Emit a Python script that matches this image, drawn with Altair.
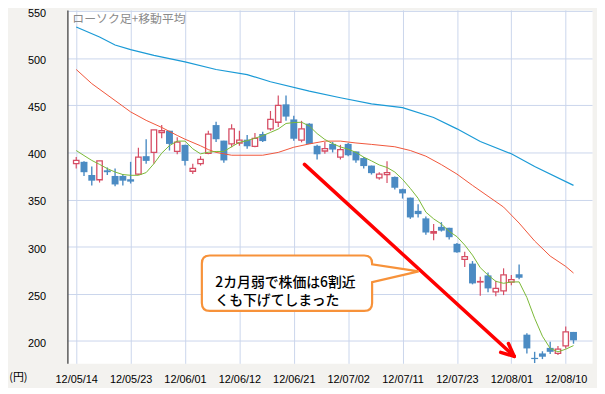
import altair as alt
import pandas as pd

# ---------------- data ----------------
opens = [388, 390, 376, 371, 381, 375, 375, 371.5, 377, 396,
         400, 421, 423, 401, 408, 380, 388, 399, 429, 412.5,
         409, 410, 413.5, 406.5, 419.5, 425, 432, 451, 435, 413,
         430.5, 407, 401.5, 409, 395, 409, 401, 394, 386, 373,
         376.5, 374, 361, 352, 338, 330, 314.5, 321, 320, 303,
         286.5, 282, 262.5, 269.5, 252, 253, 262.3, 270.7, 206.6, 182,
         186.7, 192.6, 186.7, 194.7, 209.5]
highs = [395, 390.5, 385, 391, 384, 383, 377, 390, 405, 414,
         424, 429, 423, 416, 408, 388, 396, 423, 432.5, 412.5,
         430, 423, 418.5, 420.5, 422, 444, 460.5, 460.5, 439, 433.5,
         431, 408, 411, 411, 408, 410, 401, 395, 386, 379,
         390.5, 374.5, 361.5, 352, 345, 332, 324, 326, 320, 304,
         294.5, 284.7, 268, 272.5, 263.7, 277, 270, 281, 208, 188.4,
         189, 199, 194.7, 215.3, 209.5]
lows = [383, 375, 365, 368, 376, 364, 365, 367, 376, 388,
        388, 415, 402, 398, 386, 377, 386, 398, 411, 389,
        405.5, 407, 404, 405.5, 411, 423, 427, 433.5, 412.5, 410.7,
        409, 392.5, 398.5, 400, 392.5, 396, 389, 383, 376.5, 371,
        367.5, 360.7, 351, 329.5, 331, 312.7, 306.7, 316, 307.5, 293.5,
        278.4, 260, 248, 251.5, 247.3, 248.6, 259, 265.5, 186.7, 176.5,
        180.7, 186, 185, 192, 197]
closes = [391.5, 379, 370, 391, 379, 366, 370, 369, 395, 391,
          424, 423, 409, 411, 391, 383, 392.5, 419.5, 414, 391.5,
          425, 413, 406.5, 415, 412, 435, 450, 438, 414.5, 425,
          409, 398, 404, 403, 403, 397, 391.5, 385.5, 378, 377,
          378.5, 362.5, 356.5, 331, 334.5, 315, 316, 317, 310, 294,
          289.3, 261, 263, 255.7, 255.7, 270, 265, 267, 192, 180.7,
          183.2, 188.4, 191.2, 209.5, 200.6]

# short moving average (green), one value per candle
ma_short = [402, 396.7, 391.5, 387.3, 382.8, 379.2, 376.5, 375.7, 375.7, 378.6,
            388, 399.2, 407.2, 412, 412, 403.8, 398.5, 400.2, 401, 401,
            406, 410.7, 412.5, 415, 417.8, 421.2, 424.8, 430.7, 431.7, 432,
            428, 420, 413.7, 409.3, 405.8, 403.4, 400, 395, 391, 386.7,
            384, 379.2, 371.4, 361.8, 351.3, 336.6, 329.5, 324, 316.2, 310.6,
            301.7, 291, 277.7, 269.8, 263.2, 261.1, 262.5, 262.6, 246, 224,
            205, 192, 188.4, 191.2, 195]

# middle moving average (red), read at these candle positions
ma_mid_idx = [0, 2, 5, 7, 9, 11, 13, 14, 16, 17, 18, 20, 24, 26, 28, 30, 32, 34,
              36, 38, 41, 43, 45, 47, 49, 51, 53, 55, 57, 59, 61, 63, 64]
ma_mid_val = [488, 473, 455, 443, 434, 426.5, 418, 414, 407, 403, 400, 397, 397,
              400, 405.5, 409, 412, 412, 410, 408.5, 406, 402, 396, 387, 377,
              365, 353.5, 342, 325, 306, 290, 279, 272]

# long moving average (blue)
ma_long_idx = [0, 3, 5, 7, 10, 14, 18, 22, 25, 30, 34, 38, 42, 46, 49, 52, 56, 59, 64]
ma_long_val = [533, 522.5, 514, 509, 503, 496, 488, 482.5, 475, 465, 458, 451.5,
               447.5, 437, 425, 411.5, 398.5, 385, 365]

tick_idx = [0, 7, 14, 21, 28, 35, 42, 49, 56, 63]
tick_labels = ["12/05/14", "12/05/23", "12/06/01", "12/06/12", "12/06/21",
               "12/07/02", "12/07/11", "12/07/23", "12/08/01", "12/08/10"]
y_ticks = [200, 250, 300, 350, 400, 450, 500, 550]

chart_title = "ローソク足+移動平均"
unit_label = "(円)"
note_lines = ["2カ月弱で株価は6割近", "くも下げてしまった"]

# annotation anchors (candle index, price)
arrow_shaft = {"x": [29.375], "y": [387.3], "x2": [56.375], "y2": [183.6]}
arrow_head = {"x": [56.375, 56.375], "y": [183.6, 183.6],
              "x2": [54.625, 55.625], "y2": [187.8, 197.2]}
callout_center = {"x": [27.125], "y": [261.2]}
note_pos = {"x": [17.9], "y": [261.8]}

# ---------------- build ----------------
BLUE_C = "#4b8bc3"
RED_C = "#d64d64"
GRID = "#cad6ec"

candles = pd.DataFrame({"idx": list(range(len(opens))), "open": opens, "high": highs,
                        "low": lows, "close": closes})
candles["up"] = candles["close"] >= candles["open"]
up = candles[candles["up"]]
down = candles[~candles["up"]]

xs = alt.Scale(domain=[-0.5, 65.75], nice=False, zero=False)
ys = alt.Scale(domain=[176.2, 551.2], nice=False, zero=False)

label_arr = "[" + ",".join("'%s'" % t for t in tick_labels) + "]"
x_axis = alt.Axis(values=tick_idx, labelExpr=label_arr + "[round(datum.value/7)]",
                  title=None, grid=True, gridColor=GRID, gridWidth=1, ticks=False,
                  domain=False, labelFontSize=11, labelFont="Liberation Sans",
                  labelColor="#000000", labelPadding=10)
y_axis = alt.Axis(values=y_ticks, title=None, grid=True, gridColor=GRID, gridWidth=1,
                  ticks=False, domain=True, domainColor="#5a5a5a", domainWidth=1.5,
                  labelFontSize=11, labelFont="Liberation Sans", labelColor="#000000",
                  labelAlign="right", labelPadding=22, labelOffset=2.5)


def X(field):
    return alt.X(field, type="quantitative", scale=xs, axis=x_axis)


def Y(field):
    return alt.Y(field, type="quantitative", scale=ys, axis=y_axis)


wick_up = alt.Chart(up).mark_rule(color=RED_C, strokeWidth=1.2).encode(
    x=X("idx"), y=Y("low"), y2="high")
wick_down = alt.Chart(down).mark_rule(color=BLUE_C, strokeWidth=1.4).encode(
    x=X("idx"), y=Y("low"), y2="high")
body_up = alt.Chart(up).mark_bar(size=5.5, fill="white", stroke=RED_C,
                                 strokeWidth=1.3).encode(
    x=X("idx"), y=Y("open"), y2="close")
body_down = alt.Chart(down).mark_bar(size=7, color=BLUE_C).encode(
    x=X("idx"), y=Y("open"), y2="close")

ma_s = alt.Chart(pd.DataFrame({"idx": list(range(len(ma_short))), "v": ma_short})).mark_line(
    color="#7ab836", strokeWidth=1).encode(x=X("idx"), y=Y("v"))
ma_m = alt.Chart(pd.DataFrame({"idx": ma_mid_idx, "v": ma_mid_val})).mark_line(
    color="#f0553a", strokeWidth=1).encode(x=X("idx"), y=Y("v"))
ma_l = alt.Chart(pd.DataFrame({"idx": ma_long_idx, "v": ma_long_val})).mark_line(
    color="#1a9ad6", strokeWidth=1.2).encode(x=X("idx"), y=Y("v"))

shaft = alt.Chart(pd.DataFrame(arrow_shaft)).mark_rule(
    color="#ff0000", strokeWidth=3.5, strokeCap="round").encode(
    x=X("x"), y=Y("y"), x2="x2", y2="y2")
head = alt.Chart(pd.DataFrame(arrow_head)).mark_rule(
    color="#ff0000", strokeWidth=3.5, strokeCap="round").encode(
    x=X("x"), y=Y("y"), x2="x2", y2="y2")

bubble_path = ("M -0.78 -0.28 L 0.78 -0.28 Q 0.86 -0.28 0.86 -0.2 L 0.86 -0.19 "
               "L 1.33 -0.12 L 0.86 -0.01 L 0.86 0.2 Q 0.86 0.28 0.78 0.28 "
               "L -0.78 0.28 Q -0.86 0.28 -0.86 0.2 L -0.86 -0.2 Q -0.86 -0.28 -0.78 -0.28 Z")
bubble = alt.Chart(pd.DataFrame(callout_center)).mark_point(
    shape=bubble_path, size=40000, filled=True, fill="white", stroke="#f7923a",
    strokeWidth=2.2, opacity=1).encode(x=X("x"), y=Y("y"))

note = alt.Chart(pd.DataFrame({"x": note_pos["x"], "y": note_pos["y"],
                               "t": ["\n".join(note_lines)]})).mark_text(
    align="left", baseline="middle", font="Noto Sans CJK JP", fontSize=14,
    fontWeight=500, color="#000000", lineBreak="\n", lineHeight=18.4).encode(
    x=X("x"), y=Y("y"), text="t:N")

title_txt = alt.Chart(pd.DataFrame({"t": [chart_title]})).mark_text(
    align="left", baseline="middle", font="Noto Sans CJK JP", fontSize=12,
    color="#8a8a8a").encode(x=alt.value(5), y=alt.value(9), text="t:N")
unit_txt = alt.Chart(pd.DataFrame({"t": [unit_label]})).mark_text(
    align="center", baseline="middle", font="Noto Sans CJK JP", fontSize=11,
    color="#000000").encode(x=alt.value(-49.5), y=alt.value(372), text="t:N")

chart = alt.layer(
    wick_up, wick_down, body_up, body_down, ma_l, ma_m, ma_s,
    shaft, head, bubble, note, title_txt, unit_txt
).properties(
    width=530, height=357,
    padding={"left": 60, "top": 0, "right": 5, "bottom": 23},
    autosize=alt.AutoSizeParams(type="none"),
    background="#f3f2ef",
).configure_view(fill="white", stroke="transparent")

chart.save("out.html", embed_options={"renderer": "svg", "actions": False})
